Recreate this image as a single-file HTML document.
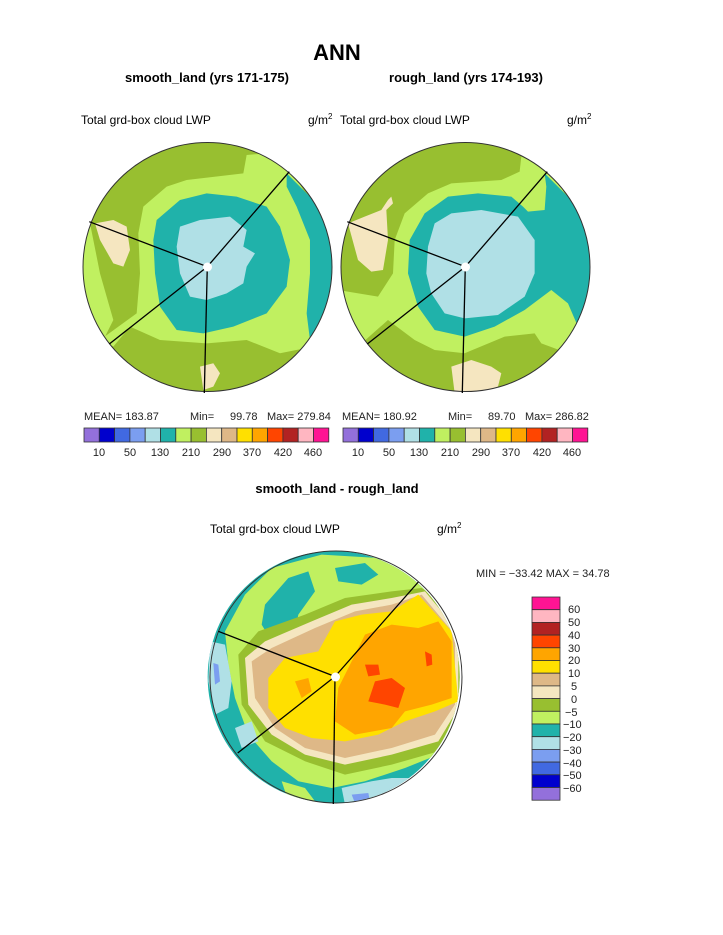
<!DOCTYPE html>
<html><head><meta charset="utf-8"><style>
body{margin:0;background:#fff;width:723px;height:935px;overflow:hidden}
svg{display:block}
text{font-family:"Liberation Sans",sans-serif}
</style></head><body>
<svg width="723" height="935" xmlns="http://www.w3.org/2000/svg">
<defs>
<clipPath id="c1"><circle cx="207.5" cy="267" r="124.5"/></clipPath>
<clipPath id="c3"><circle cx="386" cy="387" r="378"/></clipPath>
</defs>
<text x="337" y="60" font-size="22" font-weight="bold" text-anchor="middle">ANN</text>
<text x="207" y="82" font-size="13" font-weight="bold" text-anchor="middle">smooth_land (yrs 171-175)</text>
<text x="466" y="82" font-size="13" font-weight="bold" text-anchor="middle">rough_land (yrs 174-193)</text>
<text x="81" y="124" font-size="12">Total grd-box cloud LWP</text>
<text x="308" y="124" font-size="12">g/m<tspan font-size="8" dy="-5">2</tspan></text>
<text x="340" y="124" font-size="12">Total grd-box cloud LWP</text>
<text x="567" y="124" font-size="12">g/m<tspan font-size="8" dy="-5">2</tspan></text>

<!-- left panel -->
<g clip-path="url(#c1)">
<circle cx="207.5" cy="267" r="125" fill="#98BF30"/>
<g transform="translate(80,140) scale(0.3333)">
<polygon fill="#C0F060" points="500,45 560,40 640,100 760,300 760,500 700,620 600,640 500,600 380,610 240,600 150,560 100,620 60,600 170,520 180,400 175,280 190,200 260,140 320,120 490,100"/>
<polygon fill="#C0F060" points="0,250 30,250 60,400 100,540 70,600 0,500"/>
<polygon fill="#20B2AA" points="620,100 700,180 760,300 770,450 720,560 690,600 680,520 690,400 690,300 650,200 620,140"/>
<polygon fill="#20B2AA" points="230,240 300,180 380,160 470,170 560,200 600,260 630,360 620,440 560,520 460,560 370,580 290,570 240,500 225,400 220,300"/>
<polygon fill="#B0E0E6" points="300,260 360,240 450,230 500,270 490,320 525,340 500,380 490,430 440,460 380,480 330,470 300,400 290,320"/>
<polygon fill="#F5E6C0" points="45,250 100,240 140,260 150,330 130,380 100,370 60,300"/>
<polygon fill="#F5E6C0" points="360,680 400,670 420,700 400,740 370,750"/>
</g>
</g>
<circle cx="207.5" cy="267" r="124.5" fill="none" stroke="#333" stroke-width="1"/>
<g stroke="#000" stroke-width="1.3">
<line x1="207.3" y1="266.7" x2="89.3" y2="221.7"/><line x1="207.3" y1="266.7" x2="289.3" y2="171.7"/>
<line x1="207.3" y1="266.7" x2="109.3" y2="344"/><line x1="207.3" y1="266.7" x2="204.3" y2="393"/>
</g>
<circle cx="207.5" cy="267" r="4.5" fill="#fff"/>

<!-- right panel -->
<g transform="translate(258,0)">
<g clip-path="url(#c1)">
<circle cx="207.5" cy="267" r="125" fill="#98BF30"/>
<g transform="translate(80,140) scale(0.3333)">
<polygon fill="#C0F060" points="490,120 545,95 550,50 640,90 760,300 760,520 690,640 610,610 590,580 500,590 380,640 290,630 230,600 150,540 60,620 0,520 0,450 120,470 165,400 170,300 200,220 270,160 340,130"/>
<polygon fill="#20B2AA" points="620,100 700,180 760,300 760,470 720,560 690,490 640,450 560,510 470,560 380,590 290,570 240,500 210,400 215,300 260,220 330,170 420,160 520,170 555,200 570,215 620,210 625,140"/>
<polygon fill="#B0E0E6" points="290,250 340,220 430,210 540,230 590,300 590,400 560,470 480,525 380,535 320,520 280,460 265,400 270,320"/>
<polygon fill="#F5E6C0" points="30,250 80,230 130,210 150,180 160,170 165,190 145,210 150,300 135,390 100,395 60,360"/>
<polygon fill="#F5E6C0" points="340,680 400,660 460,680 490,700 480,740 420,760 350,760"/>
</g>
</g>
<circle cx="207.5" cy="267" r="124.5" fill="none" stroke="#333" stroke-width="1"/>
<g stroke="#000" stroke-width="1.3">
<line x1="207.3" y1="266.7" x2="89.3" y2="221.7"/><line x1="207.3" y1="266.7" x2="289.3" y2="171.7"/>
<line x1="207.3" y1="266.7" x2="109.3" y2="344"/><line x1="207.3" y1="266.7" x2="204.3" y2="393"/>
</g>
<circle cx="207.5" cy="267" r="4.5" fill="#fff"/>
</g>

<!-- stats -->
<g font-size="11" fill="#222">
<text x="84" y="420">MEAN= 183.87</text><text x="190" y="420">Min=</text><text x="230" y="420">99.78</text><text x="267" y="420">Max= 279.84</text>
<text x="342" y="420">MEAN= 180.92</text><text x="448" y="420">Min=</text><text x="488" y="420">89.70</text><text x="525" y="420">Max= 286.82</text>
</g>
<!-- horizontal colorbars -->
<g id="hb" stroke="#333" stroke-width="0.8">
<rect x="84" y="428" width="15.3" height="14" fill="#9370DB"/>
<rect x="99.3" y="428" width="15.3" height="14" fill="#0000CD"/>
<rect x="114.6" y="428" width="15.3" height="14" fill="#4169E1"/>
<rect x="129.9" y="428" width="15.3" height="14" fill="#7B9EF0"/>
<rect x="145.2" y="428" width="15.3" height="14" fill="#B0E0E6"/>
<rect x="160.5" y="428" width="15.3" height="14" fill="#20B2AA"/>
<rect x="175.8" y="428" width="15.3" height="14" fill="#C0F060"/>
<rect x="191.1" y="428" width="15.3" height="14" fill="#98BF30"/>
<rect x="206.4" y="428" width="15.3" height="14" fill="#F5E6C0"/>
<rect x="221.7" y="428" width="15.3" height="14" fill="#DEB887"/>
<rect x="237" y="428" width="15.3" height="14" fill="#FFE000"/>
<rect x="252.3" y="428" width="15.3" height="14" fill="#FFA500"/>
<rect x="267.6" y="428" width="15.3" height="14" fill="#FF4500"/>
<rect x="282.9" y="428" width="15.3" height="14" fill="#B22222"/>
<rect x="298.2" y="428" width="15.3" height="14" fill="#FFB6C1"/>
<rect x="313.5" y="428" width="15.3" height="14" fill="#FF1493"/>
</g>
<use href="#hb" x="259"/>
<g font-size="11" fill="#222" text-anchor="middle">
<text x="99" y="456">10</text><text x="130" y="456">50</text><text x="160" y="456">130</text><text x="191" y="456">210</text><text x="222" y="456">290</text><text x="252" y="456">370</text><text x="283" y="456">420</text><text x="313" y="456">460</text>
<text x="358" y="456">10</text><text x="389" y="456">50</text><text x="419" y="456">130</text><text x="450" y="456">210</text><text x="481" y="456">290</text><text x="511" y="456">370</text><text x="542" y="456">420</text><text x="572" y="456">460</text>
</g>

<text x="337" y="493" font-size="13" font-weight="bold" text-anchor="middle">smooth_land - rough_land</text>
<text x="210" y="533" font-size="12">Total grd-box cloud LWP</text>
<text x="437" y="533" font-size="12">g/m<tspan font-size="8" dy="-5">2</tspan></text>
<text x="476" y="577" font-size="11" fill="#222">MIN = −33.42 MAX =  34.78</text>

<!-- bottom panel -->
<g transform="translate(205,548) scale(0.3333)">
<g clip-path="url(#c3)">
<rect x="0" y="0" width="800" height="800" fill="#20B2AA"/>
<polygon fill="#C0F060" points="60,250 120,140 200,60 350,20 520,30 640,90 740,180 770,350 760,520 700,620 600,660 480,700 380,720 280,700 200,640 130,560 90,450 70,350"/>
<polygon fill="#20B2AA" points="180,170 250,90 310,70 330,130 280,200 260,300 200,280 170,230"/>
<polygon fill="#20B2AA" points="390,60 480,45 520,80 470,110 400,100"/>
<polygon fill="#98BF30" points="100,320 160,250 300,200 420,150 560,130 650,120 740,180 770,350 770,500 700,610 560,650 420,680 300,640 180,580 110,470"/>
<polygon fill="#F5E6C0" points="120,330 180,280 320,220 440,170 560,150 660,130 760,250 760,480 700,580 560,620 420,650 300,620 200,560 130,470"/>
<polygon fill="#DEB887" points="140,340 200,300 330,240 450,190 560,170 650,140 750,260 750,470 690,560 560,600 420,630 300,600 210,540 150,450"/>
<polygon fill="#FFE000" points="190,390 240,330 340,310 390,220 470,200 560,190 640,140 740,250 760,460 690,490 600,520 520,560 420,580 320,570 240,540 190,480"/>
<polygon fill="#FFA500" points="400,420 440,340 480,260 560,230 640,240 700,220 740,280 740,450 680,470 600,490 560,540 450,560 390,520"/>
<polygon fill="#FFA500" points="270,400 310,390 320,430 290,450"/>
<polygon fill="#FF4500" points="480,350 520,350 525,380 490,385"/>
<polygon fill="#FF4500" points="510,400 560,390 600,420 580,480 540,470 490,460"/>
<polygon fill="#FF4500" points="660,310 680,320 682,350 665,355"/>
<polygon fill="#B0E0E6" points="15,280 60,290 80,400 70,480 30,500 10,400"/>
<polygon fill="#7B9EF0" points="25,345 40,350 45,400 30,410"/>
<polygon fill="#B0E0E6" points="410,720 500,700 560,690 620,690 560,740 420,770"/>
<polygon fill="#7B9EF0" points="440,740 490,735 495,760 450,765"/>
<polygon fill="#B0E0E6" points="90,540 140,520 160,580 110,600"/>
<polygon fill="#C0F060" points="230,700 300,720 330,760 250,760"/>
</g>
<circle cx="393" cy="387" r="378" fill="none" stroke="#333" stroke-width="3" clip-path="none"/>
</g>
<g stroke="#000" stroke-width="1.3">
<line x1="335" y1="676.5" x2="218.3" y2="631.3"/><line x1="335" y1="676.5" x2="418.3" y2="582"/>
<line x1="335" y1="676.5" x2="237.7" y2="753"/><line x1="335" y1="676.5" x2="333.3" y2="804"/>
</g>
<circle cx="335.5" cy="677" r="4.5" fill="#fff"/>

<!-- vertical colorbar -->
<g stroke="#333" stroke-width="0.8">
<rect x="532" y="597" width="28" height="12.7" fill="#FF1493"/>
<rect x="532" y="609.7" width="28" height="12.7" fill="#FFB6C1"/>
<rect x="532" y="622.4" width="28" height="12.7" fill="#B22222"/>
<rect x="532" y="635.1" width="28" height="12.7" fill="#FF4500"/>
<rect x="532" y="647.8" width="28" height="12.7" fill="#FFA500"/>
<rect x="532" y="660.5" width="28" height="12.7" fill="#FFE000"/>
<rect x="532" y="673.2" width="28" height="12.7" fill="#DEB887"/>
<rect x="532" y="685.9" width="28" height="12.7" fill="#F5E6C0"/>
<rect x="532" y="698.6" width="28" height="12.7" fill="#98BF30"/>
<rect x="532" y="711.3" width="28" height="12.7" fill="#C0F060"/>
<rect x="532" y="724" width="28" height="12.7" fill="#20B2AA"/>
<rect x="532" y="736.7" width="28" height="12.7" fill="#B0E0E6"/>
<rect x="532" y="749.4" width="28" height="12.7" fill="#7B9EF0"/>
<rect x="532" y="762.1" width="28" height="12.7" fill="#4169E1"/>
<rect x="532" y="774.8" width="28" height="12.7" fill="#0000CD"/>
<rect x="532" y="787.5" width="28" height="12.7" fill="#9370DB"/>
</g>
<g font-size="11" fill="#222">
<text x="568" y="613">60</text><text x="568" y="626">50</text><text x="568" y="639">40</text><text x="568" y="652">30</text><text x="568" y="664">20</text><text x="568" y="677">10</text><text x="571" y="690">5</text><text x="571" y="703">0</text>
<text x="565" y="716">−5</text><text x="563" y="728">−10</text><text x="563" y="741">−20</text><text x="563" y="754">−30</text><text x="563" y="767">−40</text><text x="563" y="779">−50</text><text x="563" y="792">−60</text>
</g>
</svg>
</body></html>
